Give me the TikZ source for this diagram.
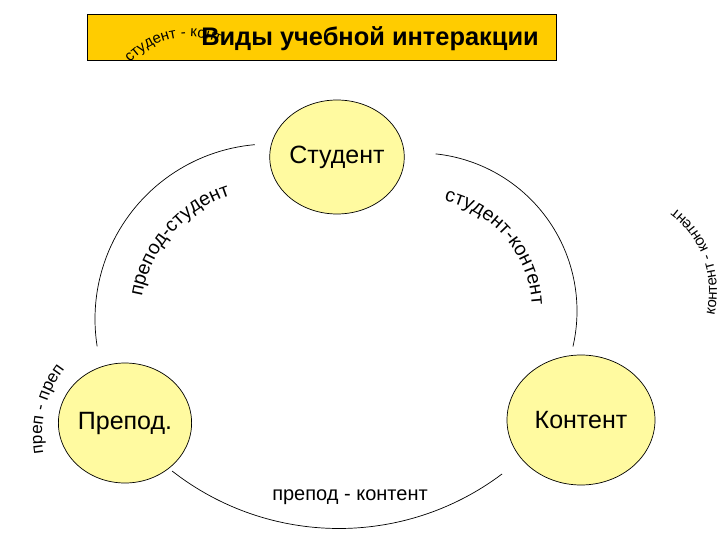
\documentclass[tikz,border=0pt]{standalone}
\usepackage{fontspec}
\setmainfont{Liberation Sans}
\usetikzlibrary{shapes.geometric,decorations.text}
\definecolor{gold}{RGB}{255,204,0}
\definecolor{pale}{RGB}{255,250,160}
\tikzset{
  roleshape/.style={ellipse, draw=black, line width=0.7pt, fill=pale, inner sep=0pt,
    font=\fontsize{25}{25}\selectfont},
  linkarc/.style={draw=black, line width=0.7pt},
  arclabel/.style={decorate, decoration={text along path, text align=center, text color=black}}
}
\begin{document}
\begin{tikzpicture}[x=1pt,y=1pt]
\useasboundingbox (0,0) rectangle (720,-540);
% title box
\node[draw=black, line width=0.8pt, fill=gold, minimum width=469pt, minimum height=46pt, inner sep=0pt] (box) at (321.5,-37) {};
% centres of the arcs
\coordinate (cL) at (270,-319);
\coordinate (cR) at (419,-311);
\coordinate (cB) at (339,-257.5);
\coordinate (cP) at (150,-435);
\coordinate (cK) at (613,-291.5);
\coordinate (cT) at (189,-117);
% role nodes
\node[roleshape, minimum width=124pt, minimum height=114pt] (stud) at (337,-157) {Студент};
\node[roleshape, minimum width=120pt, minimum height=120pt] (prep) at (125,-423) {Препод.};
\node[roleshape, minimum width=148pt, minimum height=130pt] (kont) at (581,-420) {Контент};
% arcs
\draw[linkarc] (cL) ++(95:175) arc[start angle=95, end angle=189, radius=175];
\draw[linkarc] (cR) ++(84:158) arc[start angle=84, end angle=-13, radius=158];
\draw[linkarc] (cB) ++(232:271) arc[start angle=232, end angle=307, radius=271];
% curved labels
\path[arclabel, decoration={text={|\fontsize{19.5}{19.5}\selectfont|препод-студент}}]
  (cL) ++(174:130) arc[start angle=174, end angle=104, radius=130];
\path[arclabel, decoration={text={|\fontsize{19.5}{19.5}\selectfont|студент-контент}}]
  (cR) ++(82:113) arc[start angle=82, end angle=-2, radius=113];
\path[arclabel, decoration={text={|\fontsize{17}{17}\selectfont|преп - преп}}]
  (cP) ++(198:108) arc[start angle=198, end angle=134, radius=108];
\path[arclabel, decoration={text={|\fontsize{15}{15}\selectfont|контент - контент}}]
  (cK) ++(-20:104) arc[start angle=-20, end angle=60, radius=104];
\path[arclabel, decoration={text={|\fontsize{15}{15}\selectfont|студент - конт}}]
  (cT) ++(145:80) arc[start angle=145, end angle=60, radius=80];
% title
\node[font=\fontsize{25.4}{25.4}\selectfont\bfseries] (title) at (370,-39) {Виды учебной интеракции};
% bottom label
\node[font=\fontsize{20}{20}\selectfont] (pk) at (350,-497) {препод - контент};
\end{tikzpicture}
\end{document}
